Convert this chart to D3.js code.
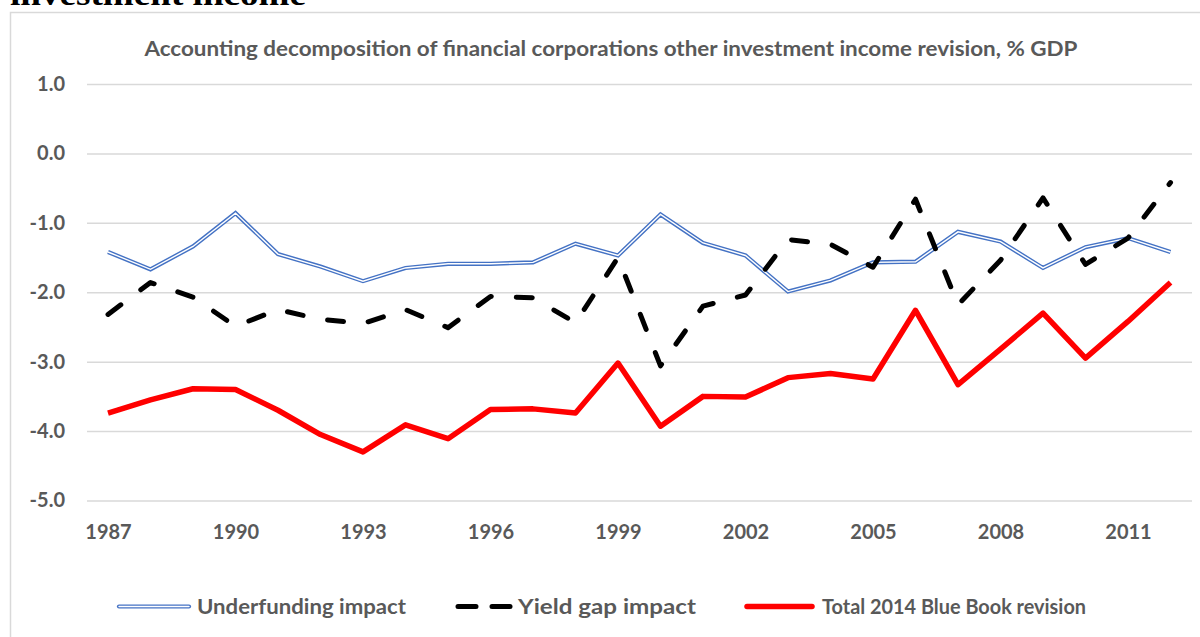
<!DOCTYPE html>
<html>
<head>
<meta charset="utf-8">
<script src="https://cdn.jsdelivr.net/npm/d3@7"></script>
<style>
  body { margin: 0; background: #fff; }
  svg { display: block; }
</style>
</head>
<body>
<svg id="chart"></svg>
<script>
const width = 1200, height = 637

// categories and series (% GDP)
const years = [1987, 1988, 1989, 1990, 1991, 1992, 1993, 1994, 1995, 1996, 1997, 1998, 1999,
    2000, 2001, 2002, 2003, 2004, 2005, 2006, 2007, 2008, 2009, 2010, 2011, 2012]
const underfunding = [-1.42, -1.67, -1.34, -0.86, -1.45, -1.63, -1.84, -1.65, -1.59, -1.59, -1.57, -1.30, -1.47,
    -0.88, -1.29, -1.47, -1.99, -1.83, -1.57, -1.56, -1.13, -1.27, -1.65, -1.35, -1.22, -1.42]
const yieldGap = [-2.32, -1.86, -2.07, -2.49, -2.25, -2.39, -2.45, -2.25, -2.51, -2.06, -2.08, -2.44, -1.50,
    -3.06, -2.20, -2.04, -1.24, -1.31, -1.64, -0.66, -2.18, -1.54, -0.64, -1.60, -1.22, -0.42]
const total = [-3.74, -3.55, -3.39, -3.40, -3.70, -4.05, -4.30, -3.91, -4.11, -3.69, -3.68, -3.74, -3.02,
    -3.93, -3.50, -3.51, -3.23, -3.17, -3.25, -2.26, -3.33, -2.82, -2.30, -2.95, -2.42, -1.86]
const yTicks = [1, 0, -1, -2, -3, -4, -5]
const xTicks = [1987, 1990, 1993, 1996, 1999, 2002, 2005, 2008, 2011]
const seriesNames = ["Underfunding impact", "Yield gap impact", "Total 2014 Blue Book revision"]

const chartTitle = "Accounting decomposition of financial corporations other investment income revision, % GDP"
const font = "Lato, 'Open Sans', sans-serif"
const grey = "#595959"

const svg = d3.select("#chart").attr("width", width).attr("height", height)

// heading of the page above the chart, cut off by the crop
svg.append("text")
    .attr("x", 10).attr("y", 5)
    .attr("font-family", "'Liberation Serif', 'DejaVu Serif', serif")
    .attr("font-weight", "bold")
    .attr("font-size", 32)
    .attr("textLength", 296)
    .attr("lengthAdjust", "spacingAndGlyphs")
    .text("investment income")

// chart frame
svg.append("rect")
    .attr("x", 10.5).attr("y", 12.5)
    .attr("width", 1200).attr("height", 700)
    .attr("fill", "#fff")
    .attr("stroke", "#d9d9d9")
    .attr("stroke-width", 1.5)

svg.append("text")
    .attr("x", 611).attr("y", 56)
    .attr("text-anchor", "middle")
    .attr("font-family", font)
    .attr("font-weight", "bold")
    .attr("font-size", 20.5)
    .attr("fill", grey)
    .attr("textLength", 933)
    .attr("lengthAdjust", "spacingAndGlyphs")
    .text(chartTitle)

const plotLeft = 87, plotRight = 1192

let x = d3.scalePoint()
    .domain(years)
    .range([108, 1170.5])

let y = d3.scaleLinear()
    .domain([-5, 1])
    .range([500.5, 84])

// gridlines + y labels
let yAxis = svg.append("g")
    .attr("transform", "translate(" + plotLeft + ",0)")
    .call(d3.axisLeft(y)
        .tickValues(yTicks)
        .tickSize(-(plotRight - plotLeft))
        .tickPadding(22)
        .tickFormat(d => d.toFixed(1)))
yAxis.select(".domain").remove()
yAxis.selectAll(".tick line").attr("stroke", "#d9d9d9").attr("stroke-width", 1.5)
yAxis.selectAll(".tick text")
    .attr("font-family", font)
    .attr("font-weight", "bold")
    .attr("font-size", 20)
    .attr("fill", grey)

let xAxis = svg.append("g")
    .attr("transform", "translate(0,500.5)")
    .call(d3.axisBottom(x)
        .tickValues(xTicks)
        .tickSize(0)
        .tickPadding(24))
xAxis.select(".domain").remove()
xAxis.selectAll(".tick text")
    .attr("font-family", font)
    .attr("font-weight", "bold")
    .attr("font-size", 20)
    .attr("fill", grey)

let line = d3.line()
    .x((d, i) => x(years[i]))
    .y(d => y(d))

// underfunding: double compound line
svg.append("path")
    .datum(underfunding)
    .attr("d", line)
    .attr("fill", "none")
    .attr("stroke", "#4472C4")
    .attr("stroke-width", 4.2)
    .attr("stroke-linejoin", "miter")
svg.append("path")
    .datum(underfunding)
    .attr("d", line)
    .attr("fill", "none")
    .attr("stroke", "#fff")
    .attr("stroke-width", 1.4)

svg.append("path")
    .datum(yieldGap)
    .attr("d", line)
    .attr("fill", "none")
    .attr("stroke", "#000")
    .attr("stroke-width", 5)
    .attr("stroke-linecap", "round")
    .attr("stroke-linejoin", "round")
    .attr("stroke-dasharray", "16,25")

svg.append("path")
    .datum(total)
    .attr("d", line)
    .attr("fill", "none")
    .attr("stroke", "#ff0000")
    .attr("stroke-width", 5.5)
    .attr("stroke-linejoin", "round")

// legend
let legend = svg.append("g").attr("font-family", font).attr("font-weight", "bold")
    .attr("font-size", 20).attr("fill", grey)

let legendItems = [
    {x1: 119, x2: 189, tx: 197, tw: 209},
    {x1: 456, x2: 510, tx: 518, tw: 178},
    {x1: 745, x2: 814, tx: 822, tw: 264}
]
let ly = 606.5

legend.append("line").attr("x1", legendItems[0].x1).attr("x2", legendItems[0].x2)
    .attr("y1", ly).attr("y2", ly)
    .attr("stroke", "#4472C4").attr("stroke-width", 4.2).attr("stroke-linecap", "round")
legend.append("line").attr("x1", legendItems[0].x1).attr("x2", legendItems[0].x2)
    .attr("y1", ly).attr("y2", ly)
    .attr("stroke", "#fff").attr("stroke-width", 1.4).attr("stroke-linecap", "round")
legend.append("line").attr("x1", legendItems[1].x1 + 2).attr("x2", legendItems[1].x2)
    .attr("y1", ly).attr("y2", ly)
    .attr("stroke", "#000").attr("stroke-width", 5).attr("stroke-linecap", "round")
    .attr("stroke-dasharray", "18,16")
legend.append("line").attr("x1", legendItems[2].x1 + 2).attr("x2", legendItems[2].x2 - 2)
    .attr("y1", ly).attr("y2", ly)
    .attr("stroke", "#ff0000").attr("stroke-width", 5.5).attr("stroke-linecap", "round")

legend.selectAll("text.leg")
    .data(seriesNames)
    .enter()
    .append("text")
    .attr("class", "leg")
    .attr("x", (d, i) => legendItems[i].tx)
    .attr("y", ly + 7)
    .attr("textLength", (d, i) => legendItems[i].tw)
    .attr("lengthAdjust", "spacingAndGlyphs")
    .text(d => d)
</script>
</body>
</html>
